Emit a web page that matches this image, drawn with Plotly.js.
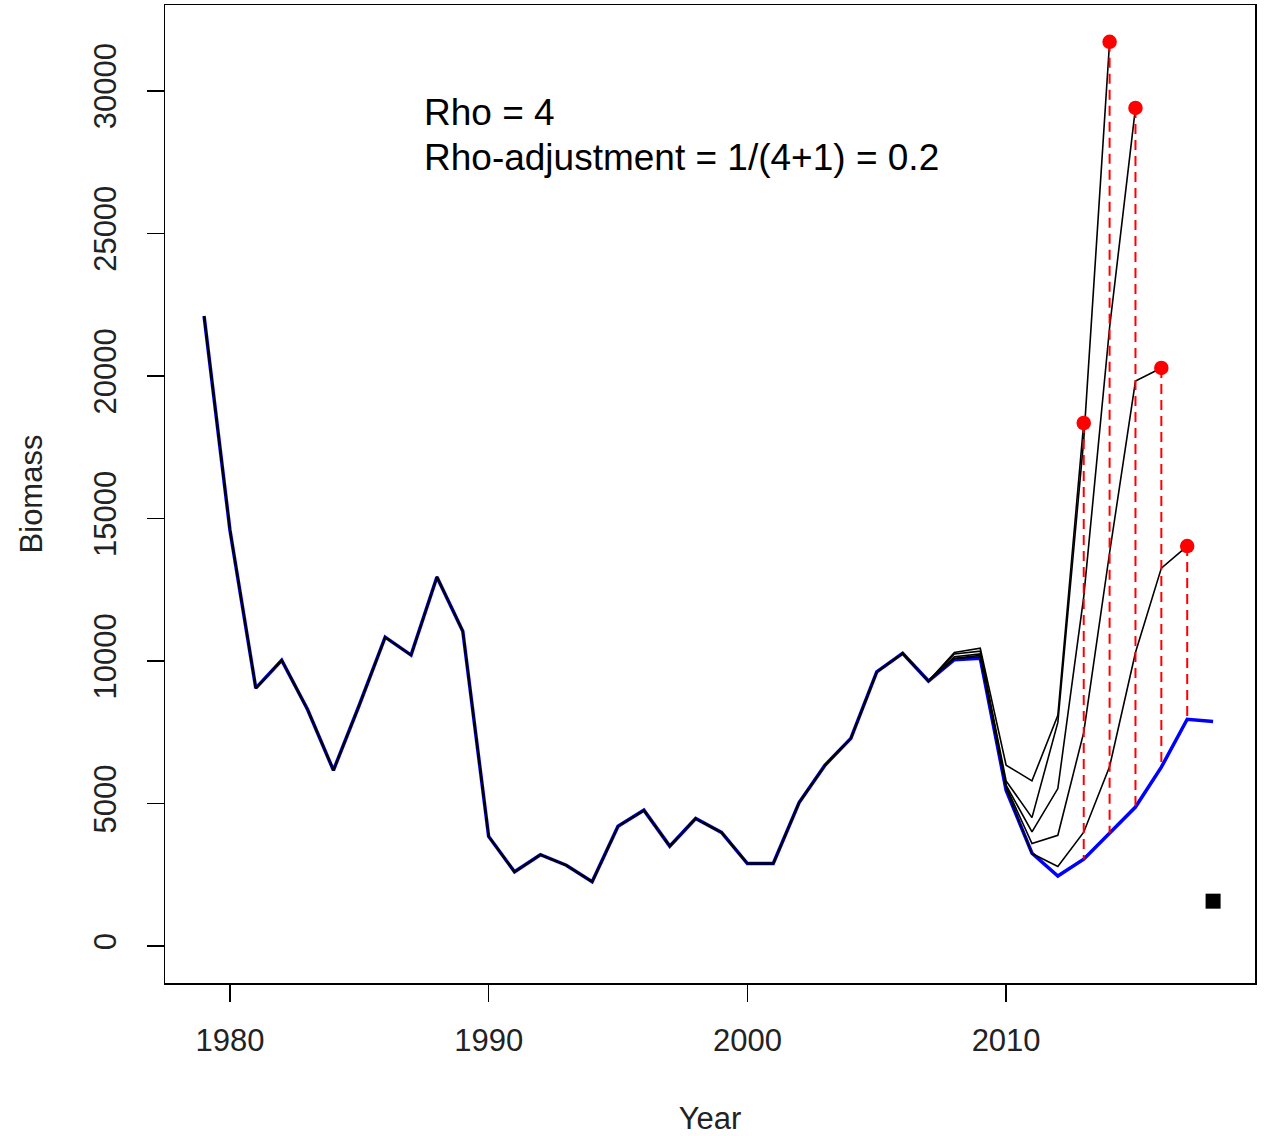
<!DOCTYPE html>
<html>
<head>
<meta charset="utf-8">
<script src="https://cdn.plot.ly/plotly-3.0.1.min.js"></script>
<style>html,body{margin:0;padding:0;background:#fff;}#chart{width:1264px;height:1136px;}</style>
</head>
<body>
<div id="chart"></div>
<script>
// Full-run biomass estimates, 1979-2018
const years = [1979,1980,1981,1982,1983,1984,1985,1986,1987,1988,1989,1990,1991,1992,1993,1994,1995,1996,1997,1998,1999,2000,2001,2002,2003,2004,2005,2006,2007,2008,2009,2010,2011,2012,2013,2014,2015,2016,2017,2018];
const biomassFull = [22100,14600,9050,10030,8300,6170,8460,10840,10210,12950,11050,3850,2610,3210,2840,2260,4210,4770,3510,4480,3990,2900,2900,5040,6350,7290,9620,10270,9300,10050,10100,5470,3260,2460,3050,3960,4880,6280,7960,7880];

// Retrospective peels: values from 2008 to each peel's terminal year
const peelStart = 2008;
const peel2013 = [10300,10450,6350,5800,8100,18350];
const peel2014 = [10250,10350,5800,4510,7850,17750,31720];
const peel2015 = [10150,10250,5650,4010,5530,12250,21700,29400];
const peel2016 = [10100,10200,5600,3600,3890,7500,13800,19820,20280];
const peel2017 = [10080,10150,5520,3250,2800,4000,6300,10300,13260,14035];

// Extra point (black square)
const squareYear = [2018];
const squareValue = [1580];

// Annotation text
const rhoText = "Rho = 4";
const rhoAdjText = "Rho-adjustment = 1/(4+1) = 0.2";

const yTicks = [0,5000,10000,15000,20000,25000,30000];
const xTicks = [1980,1990,2000,2010];

const peels = [peel2013, peel2014, peel2015, peel2016, peel2017];
const traces = [];

// full run in blue
traces.push({x: years, y: biomassFull, type: 'scatter', mode: 'lines',
  line: {color: '#0000FF', width: 3.5}, hoverinfo: 'skip', showlegend: false});

// peels in black (history prefix shared with full run)
peels.forEach(p => {
  const nPre = years.indexOf(peelStart);
  const xs = years.slice(0, nPre + p.length);
  const ys = biomassFull.slice(0, nPre).concat(p);
  traces.push({x: xs, y: ys, type: 'scatter', mode: 'lines',
    line: {color: '#000000', width: 1.6}, showlegend: false});
});

// red dashed connectors and terminal points
const dx = [], dy = [], px = [], py = [];
peels.forEach(p => {
  const endYear = peelStart + p.length - 1;
  const term = p[p.length - 1];
  const full = biomassFull[years.indexOf(endYear)];
  dx.push(endYear, endYear, null);
  dy.push(term, full, null);
  px.push(endYear); py.push(term);
});
traces.push({x: dx, y: dy, type: 'scatter', mode: 'lines',
  line: {color: '#FF0000', width: 2, dash: '10px,6px'}, showlegend: false});
traces.push({x: px, y: py, type: 'scatter', mode: 'markers',
  marker: {color: '#FF0000', size: 14.5, symbol: 'circle'}, showlegend: false});
traces.push({x: squareYear, y: squareValue, type: 'scatter', mode: 'markers',
  marker: {color: '#000000', size: 15, symbol: 'square'}, showlegend: false});

const font = 'Liberation Sans, Arial, sans-serif';
const layout = {
  width: 1264, height: 1136,
  margin: {l: 165, r: 9, t: 5, b: 153},
  paper_bgcolor: '#fff', plot_bgcolor: '#fff',
  showlegend: false,
  xaxis: {
    range: [1977.49, 2019.62], tickmode: 'array', tickvals: xTicks, ticktext: xTicks.map(String),
    ticks: 'outside', ticklen: 17, tickwidth: 1.5, tickcolor: '#000',
    showline: true, mirror: true, linecolor: '#000', linewidth: 1.5,
    showgrid: false, zeroline: false,
    tickfont: {family: font, size: 31, color: '#222'},
    ticklabelstandoff: 12,
    title: {text: 'Year', font: {family: font, size: 31, color: '#222'}, standoff: 54}
  },
  yaxis: {
    range: [-1290, 33010], tickmode: 'array', tickvals: yTicks, ticktext: yTicks.map(String),
    ticks: 'outside', ticklen: 17, tickwidth: 1.5, tickcolor: '#000', tickangle: -90,
    showline: true, mirror: true, linecolor: '#000', linewidth: 1.5,
    showgrid: false, zeroline: false,
    tickfont: {family: font, size: 31, color: '#222'},
    ticklabelstandoff: 18,
    title: {text: 'Biomass', font: {family: font, size: 31, color: '#222'}, standoff: 36}
  },
  annotations: [
    {text: rhoText, xref: 'paper', yref: 'paper', x: 0.2358, y: 0.8896, xanchor: 'left', yanchor: 'middle',
     showarrow: false, font: {family: font, size: 37, color: '#000'}},
    {text: rhoAdjText, xref: 'paper', yref: 'paper', x: 0.2358, y: 0.8436, xanchor: 'left', yanchor: 'middle',
     showarrow: false, font: {family: font, size: 37, color: '#000'}}
  ]
};

Plotly.newPlot('chart', traces, layout, {displayModeBar: false, staticPlot: true});
</script>
</body>
</html>
